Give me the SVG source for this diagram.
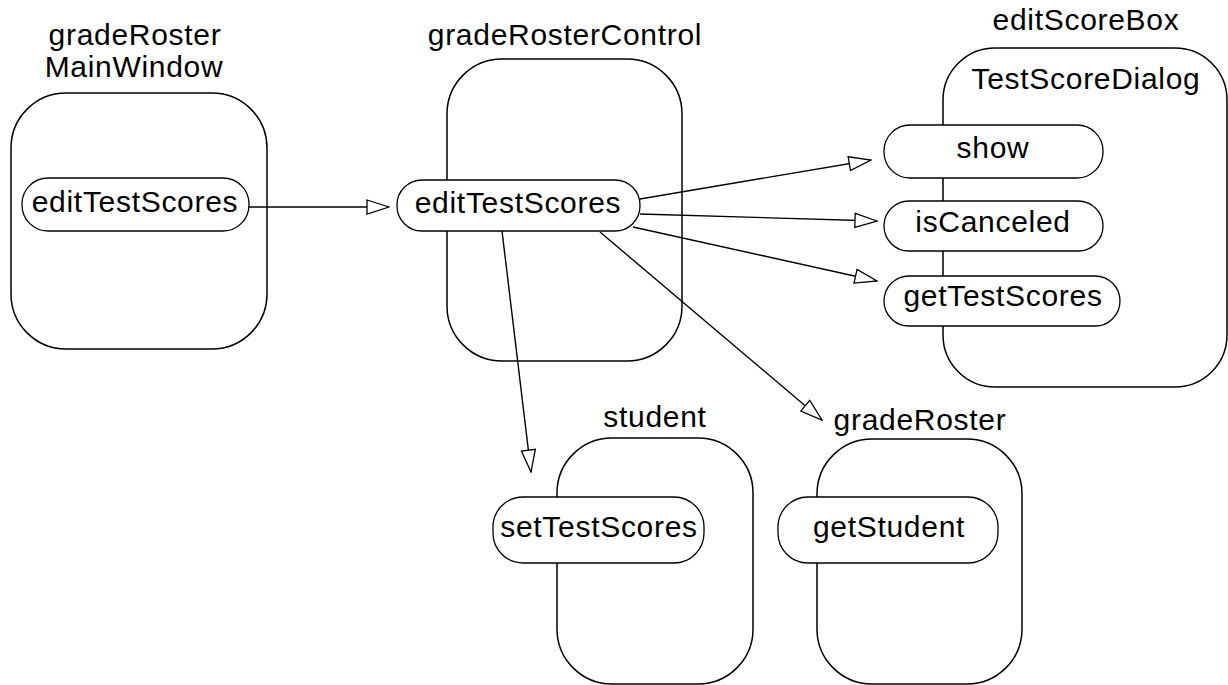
<svg xmlns="http://www.w3.org/2000/svg" width="1228" height="685" viewBox="0 0 1228 685">
<style>
.box{fill:#fff;stroke:#000;stroke-width:1.5}
.pill{fill:#fff;stroke:#000;stroke-width:1.3}
.t{font-family:"Liberation Sans",Arial,sans-serif;font-size:30px;letter-spacing:0.7px;text-anchor:middle;fill:#000}
.c{fill:none;stroke:#000;stroke-width:1.4;marker-end:url(#arr)}
</style>
<defs>
<marker id="arr" viewBox="0 0 24 16" refX="23" refY="8" markerWidth="24" markerHeight="16" orient="auto" markerUnits="userSpaceOnUse">
<path d="M1,1 L23,8 L1,15 Z" fill="#fff" stroke="#000" stroke-width="1.3"/>
</marker>
</defs>
<rect width="1228" height="685" fill="#fff"/>
<g id="gradeRosterMainWindow">
<text class="t" x="135" y="45">gradeRoster</text>
<text class="t" x="134" y="77">MainWindow</text>
<rect class="box" x="11" y="93" width="256" height="256" rx="55" ry="55"/>
<rect class="pill" x="22" y="178" width="227" height="53" rx="26" ry="26"/>
<text class="t" x="135" y="212">editTestScores</text>
</g>
<g id="gradeRosterControl">
<text class="t" x="565" y="45">gradeRosterControl</text>
<rect class="box" x="447" y="59" width="235" height="302" rx="55" ry="55"/>
<rect class="pill" x="397" y="180" width="243" height="51" rx="25" ry="25"/>
<text class="t" x="518" y="213">editTestScores</text>
</g>
<g id="editScoreBox">
<text class="t" x="1086" y="30">editScoreBox</text>
<rect class="box" x="943" y="48" width="284" height="339" rx="52" ry="52"/>
<text class="t" x="1086" y="89">TestScoreDialog</text>
<rect class="pill" x="884" y="125" width="219" height="53" rx="26" ry="26"/>
<text class="t" x="993" y="158">show</text>
<rect class="pill" x="884" y="201" width="219" height="50" rx="25" ry="25"/>
<text class="t" x="993" y="232">isCanceled</text>
<rect class="pill" x="884" y="276" width="236" height="50" rx="25" ry="25"/>
<text class="t" x="1003" y="306">getTestScores</text>
</g>
<g id="student">
<text class="t" x="655" y="427">student</text>
<rect class="box" x="557" y="438" width="196" height="246" rx="55" ry="55"/>
<rect class="pill" x="493" y="497" width="211" height="66" rx="30" ry="30"/>
<text class="t" x="599" y="537">setTestScores</text>
</g>
<g id="gradeRoster">
<text class="t" x="920" y="430">gradeRoster</text>
<rect class="box" x="817" y="439" width="205" height="245" rx="55" ry="55"/>
<rect class="pill" x="778" y="497" width="220" height="66" rx="30" ry="30"/>
<text class="t" x="889" y="537">getStudent</text>
</g>
<g id="connectors">
<path class="c" d="M249,207 L389,207" stroke-width="2"/>
<path class="c" d="M640,199 L871,160"/>
<path class="c" d="M640,214 L877,221"/>
<path class="c" d="M633,227 L877,281"/>
<path class="c" d="M502,231 L531,472"/>
<path class="c" d="M600,232 L822,420"/>
</g>
</svg>
